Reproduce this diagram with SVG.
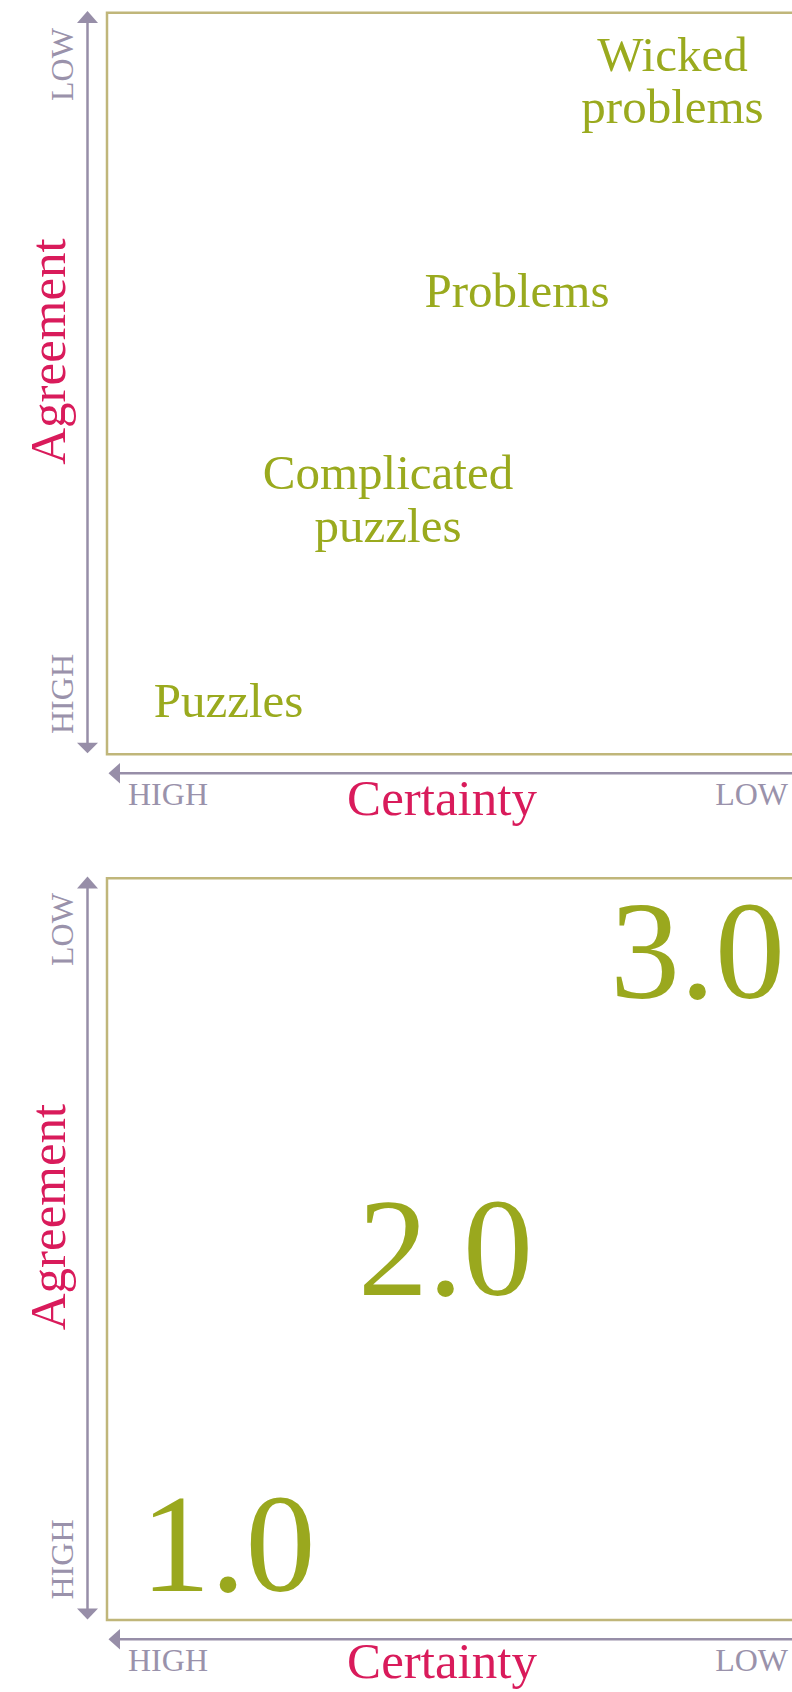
<svg xmlns="http://www.w3.org/2000/svg" width="792" height="1692" viewBox="0 0 792 1692">
  <defs>
    <style>
      .frame { fill: none; stroke: #c0b67a; stroke-width: 2.5; }
      .axis { stroke: #978ea8; stroke-width: 2.5; fill: none; }
      .head { fill: #978ea8; }
      .tick { font-family: "Liberation Serif", "DejaVu Serif", serif; font-size: 32px; fill: #9a92ab; }
      .title { font-family: "Liberation Serif", "DejaVu Serif", serif; font-size: 51px; fill: #d91b5b; text-anchor: middle; }
      .lab { font-family: "Liberation Serif", "DejaVu Serif", serif; font-size: 49px; fill: #9aaa1e; text-anchor: middle; }
      .big { font-family: "Liberation Serif", "DejaVu Serif", serif; font-size: 140px; fill: #9aa81e; text-anchor: middle; }
    </style>
  </defs>
  <rect width="792" height="1692" fill="#ffffff"/>

  <!-- Panel 1 -->
  <g id="frame1">
    <path class="frame" d="M 800 12.7 L 107 12.7 L 107 754.3 L 800 754.3"/>
  </g>
  <g id="connectors">
    <line class="axis" x1="87.5" y1="20" x2="87.5" y2="745"/>
    <polygon class="head" points="87.5,11 77,23 98,23"/>
    <polygon class="head" points="87.5,753.3 77,742.7 98,742.7"/>
    <line class="axis" x1="116" y1="773.3" x2="800" y2="773.3"/>
    <polygon class="head" points="108.5,773.3 120,763 120,783.6"/>

    <line class="axis" x1="87.5" y1="885.5" x2="87.5" y2="1611"/>
    <polygon class="head" points="87.5,876.5 77,888.5 98,888.5"/>
    <polygon class="head" points="87.5,1619.5 77,1608.5 98,1608.5"/>
    <line class="axis" x1="116" y1="1639.3" x2="800" y2="1639.3"/>
    <polygon class="head" points="108.5,1639.3 120,1629 120,1649.6"/>
  </g>
  <g id="axis-labels1">
    <text class="tick" text-anchor="middle" transform="translate(73,64.5) rotate(-90)">LOW</text>
    <text class="tick" text-anchor="middle" transform="translate(73,694) rotate(-90)">HIGH</text>
    <text class="title" transform="translate(65,351.5) rotate(-90)">Agreement</text>
    <text class="tick" x="128" y="805">HIGH</text>
    <text class="tick" x="788" y="805" text-anchor="end">LOW</text>
    <text class="title" x="442" y="815">Certainty</text>
  </g>
  <g id="wicked-problems">
    <text class="lab" x="672.5" y="71">Wicked</text>
    <text class="lab" x="672.5" y="123">problems</text>
  </g>
  <g id="problems">
    <text class="lab" x="517" y="307">Problems</text>
  </g>
  <g id="complicated-puzzles">
    <text class="lab" x="388" y="489">Complicated</text>
    <text class="lab" x="388" y="542">puzzles</text>
  </g>
  <g id="puzzles">
    <text class="lab" x="228.5" y="717">Puzzles</text>
  </g>

  <!-- Panel 2 -->
  <g id="frame2">
    <path class="frame" d="M 800 878.2 L 107 878.2 L 107 1620 L 800 1620"/>
  </g>
  <g id="axis-labels2">
    <text class="tick" text-anchor="middle" transform="translate(73,929.5) rotate(-90)">LOW</text>
    <text class="tick" text-anchor="middle" transform="translate(73,1559.5) rotate(-90)">HIGH</text>
    <text class="title" transform="translate(65,1217) rotate(-90)">Agreement</text>
    <text class="tick" x="128" y="1671">HIGH</text>
    <text class="tick" x="788" y="1671" text-anchor="end">LOW</text>
    <text class="title" x="442" y="1678">Certainty</text>
  </g>
  <g id="v3">
    <text class="big" x="697.5" y="998">3.0</text>
  </g>
  <g id="v2">
    <text class="big" x="445.5" y="1295">2.0</text>
  </g>
  <g id="v1">
    <text class="big" x="228" y="1591">1.0</text>
  </g>
</svg>
